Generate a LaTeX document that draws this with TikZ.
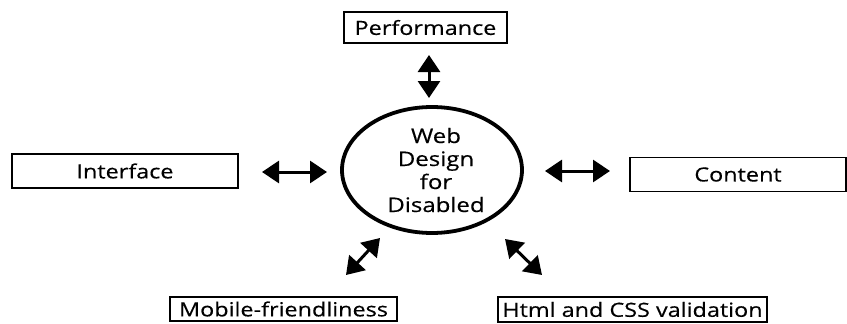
\documentclass[tikz,border=0pt]{standalone}
\usepackage{fontspec}
\setmainfont{Open Sans}[FakeStretch=1.2, FakeBold=0.4]
\usetikzlibrary{arrows.meta,shapes.geometric}

\tikzset{
  topic/.style={draw=black, line width=1.8pt, inner sep=0pt, align=center,
    font=\fontsize{19.5}{23}\selectfont},
  hub/.style={draw=black, line width=3.8pt, ellipse, inner sep=0pt,
    align=center, font=\fontsize{20}{23}\selectfont},
  link/.style={line width=3pt,
    {Triangle[length=17pt,width=22pt]}-{Triangle[length=17pt,width=22pt]}}
}

\begin{document}
\begin{tikzpicture}[x=1pt, y=-1pt]
  \useasboundingbox (0,0) rectangle (847,324);

  % central hub
  \node[hub, minimum width=180pt, minimum height=126pt] (hub) at (432,170)
    {\hspace*{8pt}Web\\\hspace*{8pt}Design\\\hspace*{8pt}for\\\hspace*{8pt}Disabled};

  % surrounding topics
  \node[topic, minimum width=163pt, minimum height=31pt] (perf) at (425.5,27.5) {Performance};
  \node[topic, minimum width=226pt, minimum height=34pt] (iface) at (125,171) {Interface};
  \node[topic, minimum width=216pt, minimum height=34pt] (content) at (738,174.5) {Content};
  \node[topic, minimum width=227pt, minimum height=24pt] (mobile) at (283.5,309) {Mobile-friendliness};
  \node[topic, minimum width=269pt, minimum height=25pt] (html) at (632.5,309.5) {Html and CSS validation};

  % arrow end points
  \coordinate (perfA) at (429,55);
  \coordinate (perfB) at (429,98);
  \coordinate (ifaceA) at (262,172);
  \coordinate (ifaceB) at (327,172);
  \coordinate (contA) at (545,171);
  \coordinate (contB) at (610,171);
  \coordinate (mobA) at (346,275);
  \coordinate (mobB) at (380,238);
  \coordinate (htmlA) at (505,239);
  \coordinate (htmlB) at (542,275);

  % two-way links
  \draw[link] (perfA) -- (perfB);
  \draw[link] (ifaceA) -- (ifaceB);
  \draw[link] (contA) -- (contB);
  \draw[link] (mobA) -- (mobB);
  \draw[link] (htmlA) -- (htmlB);
\end{tikzpicture}
\end{document}
